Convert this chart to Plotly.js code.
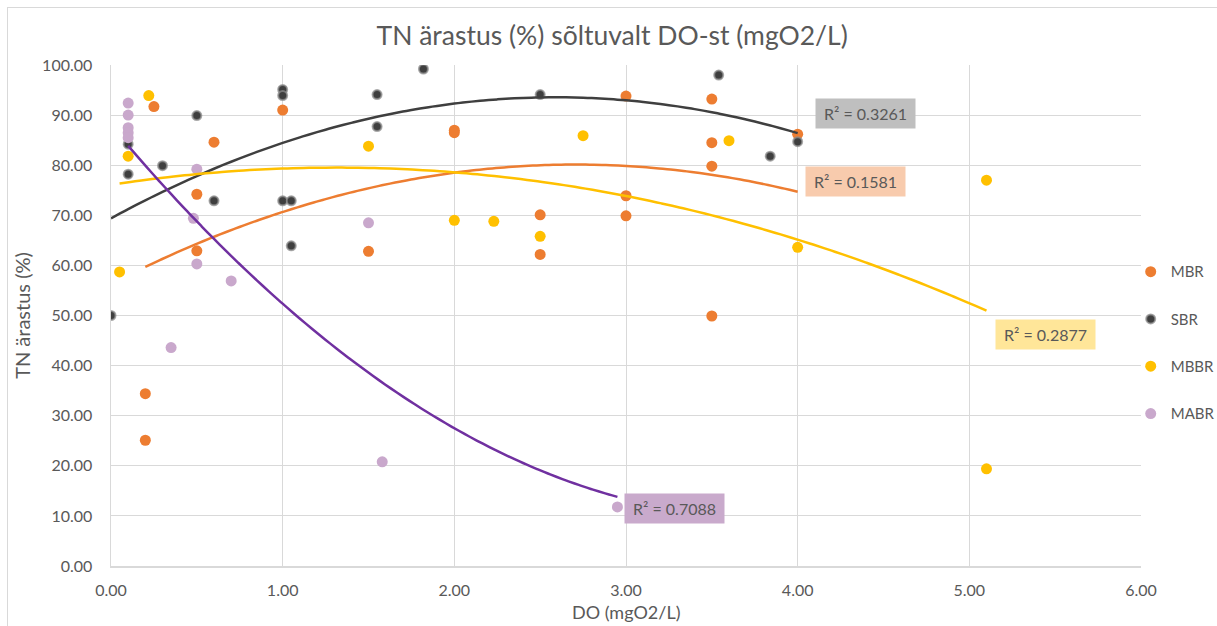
<!DOCTYPE html>
<html>
<head>
<meta charset="utf-8">
<script src="https://cdn.plot.ly/plotly-3.0.1.min.js"></script>
<style>
  html, body { margin: 0; padding: 0; background: #fff; overflow: hidden; }
  #wrap { position: relative; width: 1217px; height: 626px; overflow: hidden; }
  #chart { position: absolute; left: 0; top: 0; width: 1217px; height: 626px; }
  #frame { position: absolute; left: 7px; top: 7px; width: 1300px; height: 700px; border: 1px solid #D9D9D9; pointer-events: none; }
</style>
</head>
<body>
<div id="wrap">
  <div id="chart"></div>
  <div id="frame"></div>
</div>
<script>
// ---- Data ----
const seriesNames = ["MBR", "SBR", "MBBR", "MABR"];

const mbrX = [0.2, 0.2, 0.25, 0.5, 0.5, 0.6, 1.0, 1.5, 2.0, 2.0, 2.5, 2.5, 3.0, 3.0, 3.0, 3.5, 3.5, 3.5, 3.5, 4.0];
const mbrY = [34.4, 25.1, 91.7, 74.2, 62.9, 84.6, 91.0, 62.8, 87.0, 86.5, 70.1, 62.2, 93.8, 73.9, 69.9, 93.2, 84.5, 79.8, 49.9, 86.2];

const sbrX = [0.0, 0.1, 0.1, 0.3, 0.5, 0.6, 1.0, 1.0, 1.0, 1.05, 1.05, 1.55, 1.55, 1.82, 2.5, 3.54, 3.84, 4.0];
const sbrY = [50.0, 84.2, 78.2, 79.9, 89.9, 72.9, 95.1, 93.9, 72.9, 72.9, 63.9, 94.1, 87.7, 99.2, 94.1, 98.0, 81.8, 84.7];

const mbbrX = [0.05, 0.1, 0.22, 1.5, 2.0, 2.23, 2.5, 2.75, 3.6, 4.0, 5.1, 5.1];
const mbbrY = [58.7, 81.8, 93.9, 83.8, 69.0, 68.8, 65.8, 85.9, 84.9, 63.6, 77.0, 19.4];

const mabrX = [0.1, 0.1, 0.1, 0.1, 0.1, 0.35, 0.48, 0.5, 0.5, 0.7, 1.5, 1.58, 2.95];
const mabrY = [92.4, 90.0, 87.5, 86.5, 85.5, 43.6, 69.4, 79.2, 60.3, 56.9, 68.5, 20.8, 11.8];

// Polynomial (order 2) trendline coefficients [c0, c1, c2]
const mbrTrend  = [56.32, 17.59, -3.249];
const sbrTrend  = [69.4, 18.65, -3.6];
const mbbrTrend = [76.1, 5.22, -1.99];
const mabrTrend = [87.9, -40.9, 5.35];

const r2Labels = ["R² = 0.1581", "R² = 0.3261", "R² = 0.2877", "R² = 0.7088"];

// ---- Styles ----
const markerColors = ["#ED7D31", "#3F3F3F", "#FFC000", "#C9A8CC"];
const lineColors   = ["#ED7D31", "#3F3F3F", "#FFC000", "#7030A0"];
const boxColors    = ["#F8CBAD", "#BFBFBF", "#FFE699", "#C9AACC"];
const labelPos = [
  {x: 4.336, y: 76.8},
  {x: 4.395, y: 90.26},
  {x: 5.442, y: 46.25},
  {x: 3.284, y: 11.5}
];

const xs = [mbrX, sbrX, mbbrX, mabrX];
const ys = [mbrY, sbrY, mbbrY, mabrY];
const trends = [mbrTrend, sbrTrend, mbbrTrend, mabrTrend];

function trendLine(xArr, c) {
  const lo = Math.min(...xArr), hi = Math.max(...xArr);
  const tx = [], ty = [];
  const n = 80;
  for (let i = 0; i <= n; i++) {
    const x = lo + (hi - lo) * i / n;
    tx.push(x);
    ty.push(c[0] + c[1] * x + c[2] * x * x);
  }
  return {tx, ty};
}

const traces = [];
for (let i = 0; i < 4; i++) {
  const isSBR = i === 1;
  traces.push({
    type: "scatter", mode: "markers",
    name: seriesNames[i], legendgroup: seriesNames[i],
    x: xs[i], y: ys[i],
    marker: {
      color: markerColors[i],
      size: isSBR ? 9 : 11,
      line: isSBR ? {color: "rgba(140,140,140,0.75)", width: 2} : {width: 0}
    },
    hoverinfo: "x+y"
  });
}
for (let i = 0; i < 4; i++) {
  const t = trendLine(xs[i], trends[i]);
  traces.push({
    type: "scatter", mode: "lines",
    x: t.tx, y: t.ty,
    line: {color: lineColors[i], width: 2.5, shape: "spline"},
    showlegend: false, hoverinfo: "skip"
  });
}

const fam = "Lato, 'Open Sans', sans-serif";

const annotations = [];
for (let i = 0; i < 4; i++) {
  annotations.push({
    x: labelPos[i].x, y: labelPos[i].y, xref: "x", yref: "y",
    text: r2Labels[i], showarrow: false,
    bgcolor: boxColors[i], borderpad: 2, width: 95, height: 25,
    font: {family: fam, size: 16, color: "#595959"}
  });
}
// x-axis title
annotations.push({
  x: 0.5, y: -0.0918, xref: "paper", yref: "paper",
  xanchor: "center", yanchor: "middle", showarrow: false, borderpad: 0,
  text: "DO (mgO2/L)", font: {family: fam, size: 18, color: "#595959"}
});

const tickFont = {family: fam, size: 16, color: "#595959"};

const layout = {
  width: 1217, height: 626,
  margin: {l: 110.5, r: 75.7, t: 65, b: 60, autoexpand: false},
  paper_bgcolor: "rgba(0,0,0,0)", plot_bgcolor: "#fff",
  font: {family: fam, color: "#595959"},
  title: {
    text: "TN ärastus (%) sõltuvalt DO-st (mgO2/L)",
    font: {family: fam, size: 26.5, color: "#595959"},
    x: 0.503, xanchor: "center", y: 0.943, yanchor: "middle"
  },
  xaxis: {
    range: [0, 6], dtick: 1, tick0: 0, tickformat: ".2f",
    showgrid: true, gridcolor: "#D9D9D9", gridwidth: 1,
    showline: true, linecolor: "#D9D9D9", linewidth: 1.5,
    zeroline: false, ticks: "", tickfont: tickFont, ticklabelstandoff: 9,
    fixedrange: true
  },
  yaxis: {
    range: [0, 100], dtick: 10, tick0: 0, tickformat: ".2f",
    showgrid: true, gridcolor: "#D9D9D9", gridwidth: 1,
    showline: true, linecolor: "#D9D9D9", linewidth: 1.5,
    zeroline: false, ticks: "", tickfont: tickFont, ticklabelstandoff: 14,
    title: {text: "TN ärastus (%)", font: {family: fam, size: 20, color: "#595959"}, standoff: 6},
    fixedrange: true
  },
  showlegend: true,
  legend: {
    x: 0.99, xanchor: "left", y: 0.62, yanchor: "top",
    font: {family: fam, size: 15, color: "#595959"},
    tracegroupgap: 24.8, itemwidth: 30, bgcolor: "rgba(0,0,0,0)"
  },
  annotations: annotations
};

Plotly.newPlot("chart", traces, layout, {displayModeBar: false, staticPlot: true});
</script>
</body>
</html>
